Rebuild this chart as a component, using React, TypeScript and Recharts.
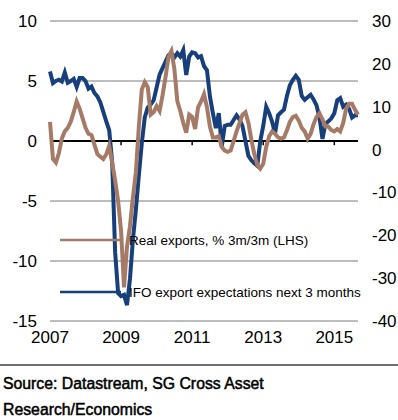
import React from 'react';
import { LineChart, Line, XAxis, YAxis, CartesianGrid, ReferenceLine } from 'recharts';

const startYear = 2007;

// Real exports, % 3m/3m (LHS) — monthly from Jan 2007
const exportsVals = [
  1.6, -1.5, -1.8, -1.0, 0.2, 0.8, 1.1, 1.6, 2.4, 3.3,
  2.7, 1.9, 1.1, 0.6, 0.5, -0.3, -1.1, -1.3, -1.5, -1.1,
  -0.4, -1.8, -3.3, -5.0, -7.5, -12.2, -8.8, -7.1, -4.7, -2.6,
  1.2, 4.3, 4.9, 4.5, 2.2, 2.4, 2.9, 2.5, 3.8, 5.3,
  7.0, 7.5, 6.0, 3.3, 2.5, 1.5, 0.7, 2.2, 2.0, 1.0,
  2.8, 3.3, 3.9, 2.8, 1.2, 0.3, 0.3, 0.4, -0.5, -0.8,
  -0.9, -0.8, 0.0, 0.8, 1.5, 2.2, 2.4, 1.5, 0.1, -1.1,
  -2.0, -2.3, -1.9, -0.5, 0.4, 0.8, 0.6, 0.3, 0.2, 0.3,
  0.9, 1.6, 2.0, 2.1, 1.7, 1.1, 0.8, 0.2, 0.6, 1.4,
  2.0, 2.3, 1.8, 1.2, 1.2, 0.9, 0.8, 1.0, 0.8, 1.5,
  2.7, 3.1, 3.1, 2.6, 2.2,
];

// IFO export expectations next 3 months (RHS) — monthly from Jan 2007
const ifoVals = [
  18.2, 15.5, 16.0, 16.3, 15.9, 18.0, 15.6, 16.0, 16.5, 14.6,
  16.7, 16.7, 16.0, 14.2, 14.7, 13.2, 12.4, 11.0, 8.8, 6.6,
  4.5, -3, -24, -33.5, -34.2, -33.9, -36.3, -30.2, -21, -14,
  -6, 1.5, 7.5, 9.8, 10.5, 11.5, 14.5, 17.5, 19, 20.5,
  22, 22.5, 21.5, 22.5, 21.7, 23.2, 17.4, 21.7, 22.7, 22.5,
  21.5, 21.8, 19.5, 18.5, 12.4, 8.5, 5, 8.5, 0.7, 5.5,
  5.8, 5.8, 6.9, 8.0, 7.0, 5.5, 2.0, -1.5, -2.5, -3.2,
  -3.8, 2.0, 5.5, 10.0, 8.5, 6.5, 3.8, 8.0, 8.7, 9.3,
  12.5, 15, 16.3, 17.2, 16.3, 12.5, 11.6, 12.2, 12.8, 11.7,
  10.3, 7.5, 2.5, 6.0, 6.6, 7.3, 8.5, 11.5, 12.0, 10.0,
  10.5, 9.5, 7.5, 8.0, 8.0,
];

const yearTicks = [2007, 2009, 2011, 2013, 2015];
const leftTicks = [-15, -10, -5, 0, 5, 10];
const rightTicks = [-40, -30, -20, -10, 0, 10, 20, 30];
const seriesNames = ['Real exports, % 3m/3m (LHS)', 'IFO export expectations next 3 months'];
const sourceLines = ['Source: Datastream, SG Cross Asset', 'Research/Economics'];

const BROWN = '#a57a66';
const BLUE = '#173f7c';
const FONT = '"Liberation Sans", Arial, Helvetica, sans-serif';

const data = exportsVals.map((v, i) => ({
  t: startYear + i / 12,
  exports: v,
  ifo: ifoVals[i],
}));

export default function App() {
  const lastT = data[data.length - 1].t;
  return (
    <div style={{ position: 'absolute', left: 0, top: 0, width: 398, height: 420, background: '#fff', fontFamily: FONT }}>
      <LineChart
        width={398}
        height={360}
        data={data}
        margin={{ top: 21, right: 0, left: 0, bottom: 0 }}
      >
        <CartesianGrid yAxisId="left" vertical={false} stroke="#bdbdbd" strokeWidth={2} />
        <XAxis
          type="number"
          dataKey="t"
          domain={[startYear, lastT]}
          ticks={yearTicks}
          axisLine={false}
          tickLine={false}
          height={39}
          tickMargin={4}
          tick={{ fill: '#000', fontSize: 17, fontFamily: FONT }}
        />
        <YAxis
          yAxisId="left"
          domain={[-15, 10]}
          ticks={leftTicks}
          width={50}
          axisLine={false}
          tickLine={false}
          tickMargin={7}
          tick={{ fill: '#000', fontSize: 17, fontFamily: FONT }}
        />
        <YAxis
          yAxisId="right"
          orientation="right"
          domain={[-40, 30]}
          ticks={rightTicks}
          width={40}
          axisLine={false}
          tickLine={false}
          tickMargin={8}
          tick={{ fill: '#000', fontSize: 17, fontFamily: FONT, textAnchor: 'start' }}
        />
        <ReferenceLine yAxisId="left" y={0} stroke="#000" strokeWidth={2} />
        {yearTicks.slice(1).map((yr) => (
          <ReferenceLine
            key={yr}
            yAxisId="left"
            segment={[{ x: yr, y: 0 }, { x: yr, y: -0.35 }]}
            stroke="#000"
            strokeWidth={1.5}
          />
        ))}
        <Line
          yAxisId="right"
          type="linear"
          dataKey="ifo"
          stroke={BLUE}
          strokeWidth={4}
          dot={false}
          isAnimationActive={false}
        />
        <Line
          yAxisId="left"
          type="linear"
          dataKey="exports"
          stroke={BROWN}
          strokeWidth={4}
          dot={false}
          isAnimationActive={false}
        />
      </LineChart>
      <svg width={398} height={420} style={{ position: 'absolute', left: 0, top: 0, pointerEvents: 'none' }}>
        <line x1={60} x2={121} y1={240} y2={240} stroke={BROWN} strokeWidth={2.5} />
        <text x={129} y={245} fontSize={13.5} fontFamily={FONT} fill="#000">{seriesNames[0]}</text>
        <line x1={60} x2={121} y1={292} y2={292} stroke={BLUE} strokeWidth={2.5} />
        <text x={129} y={297} fontSize={13.5} fontFamily={FONT} fill="#000">{seriesNames[1]}</text>
        <line x1={0} x2={398} y1={365} y2={365} stroke="#6f6f6f" strokeWidth={2} />
        <text x={3} y={389} fontSize={15.8} fontFamily={FONT} fill="#000" stroke="#000" strokeWidth={0.5}>{sourceLines[0]}</text>
        <text x={3} y={415} fontSize={15.8} fontFamily={FONT} fill="#000" stroke="#000" strokeWidth={0.5}>{sourceLines[1]}</text>
      </svg>
    </div>
  );
}
